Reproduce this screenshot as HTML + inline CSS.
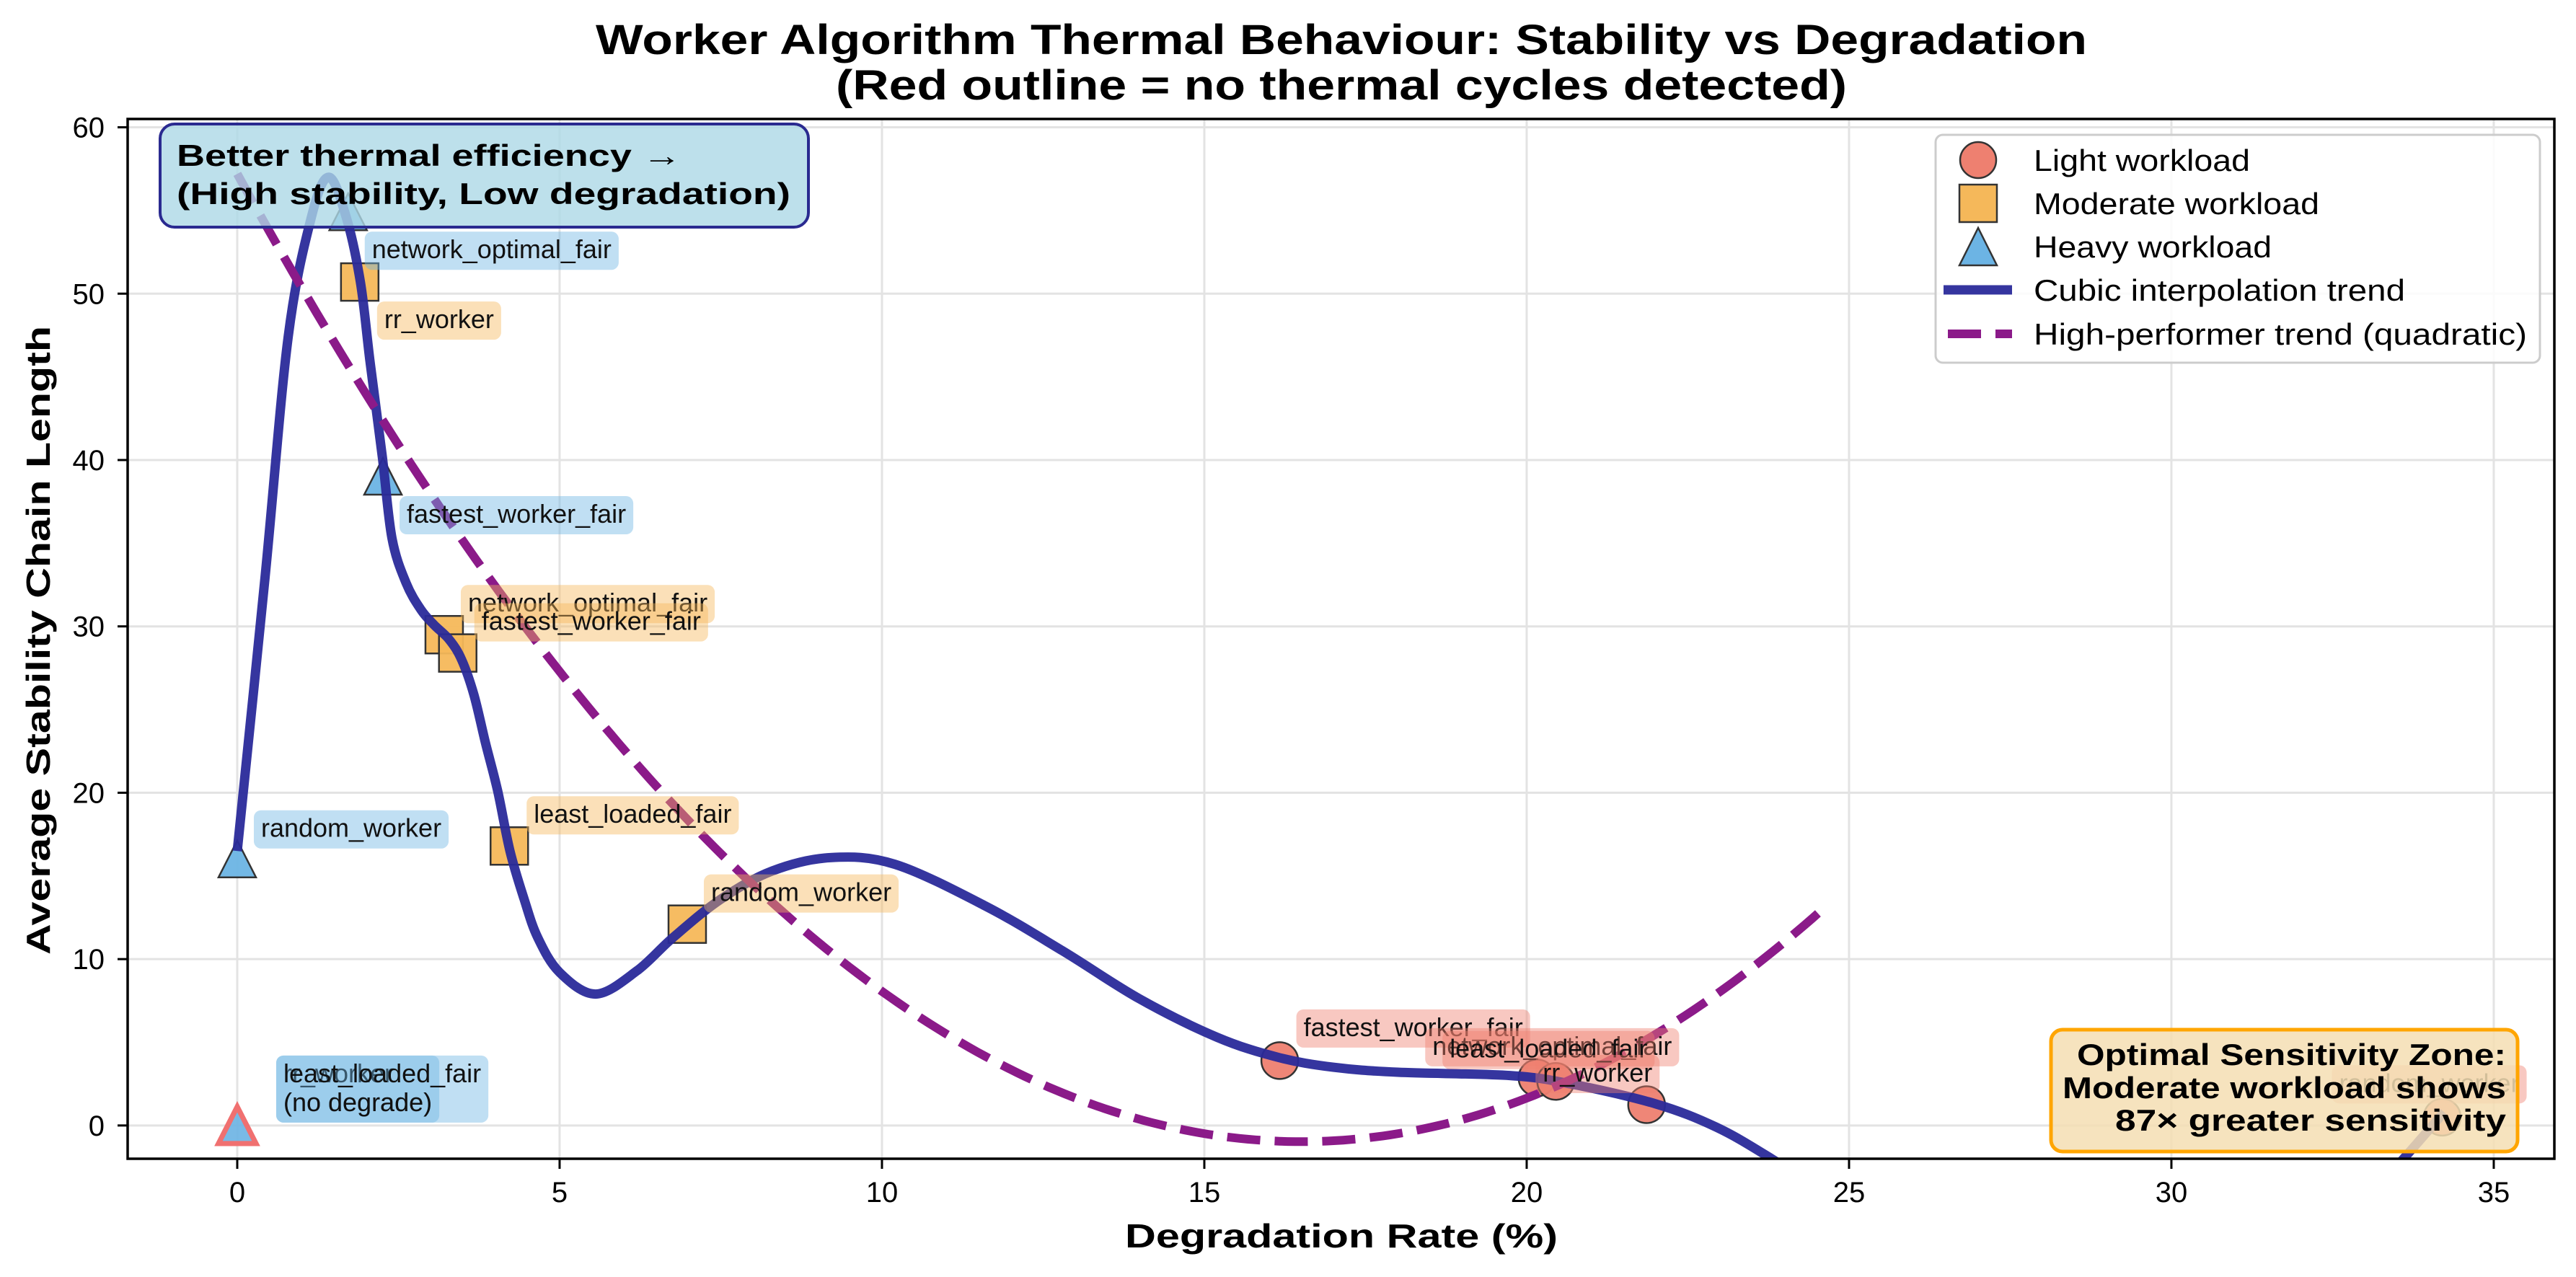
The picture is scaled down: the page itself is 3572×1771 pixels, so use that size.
<!DOCTYPE html>
<html><head><meta charset="utf-8"><style>
html,body{margin:0;padding:0;background:#fff;}
svg{display:block;font-family:"Liberation Sans",sans-serif;}
</style></head><body>
<svg id="chart" xmlns="http://www.w3.org/2000/svg" width="3572" height="1771" viewBox="0 0 3572 1771">
<rect width="3572" height="1771" fill="#fff"/>
<defs><clipPath id="plotclip"><rect x="177" y="165" width="3365" height="1442"/></clipPath></defs>
<g id="grid"></g>
<g id="marks" clip-path="url(#plotclip)"></g>
<g id="lines" clip-path="url(#plotclip)"></g>
<g id="labels" clip-path="url(#plotclip)"></g>
<g id="axes"></g>

<g>
<rect x="222" y="172" width="899" height="143" rx="20" fill="#add8e6" fill-opacity="0.8" stroke="#2a2a90" stroke-width="4"/>
<text x="245" y="230" font-size="42" font-weight="bold" textLength="700" lengthAdjust="spacingAndGlyphs">Better thermal efficiency →</text>
<text x="245" y="283" font-size="42" font-weight="bold" textLength="851" lengthAdjust="spacingAndGlyphs">(High stability, Low degradation)</text>
</g>
<g>
<rect x="2844" y="1428" width="647" height="169" rx="16" fill="#f5deb3" fill-opacity="0.85" stroke="#ffa500" stroke-width="5"/>
<text x="3475" y="1477" font-size="42" font-weight="bold" text-anchor="end" textLength="595" lengthAdjust="spacingAndGlyphs">Optimal Sensitivity Zone:</text>
<text x="3475" y="1523" font-size="42" font-weight="bold" text-anchor="end" textLength="615" lengthAdjust="spacingAndGlyphs">Moderate workload shows</text>
<text x="3475" y="1568" font-size="42" font-weight="bold" text-anchor="end" textLength="542" lengthAdjust="spacingAndGlyphs">87× greater sensitivity</text>
</g>

<g>
<rect x="2684" y="187" width="838" height="316" rx="10" fill="#fff" fill-opacity="0.85" stroke="#cccccc" stroke-width="3"/>
<g>
<ellipse cx="2743" cy="222" rx="25" ry="25" fill="#ee8070" stroke="#333" stroke-width="2.5"/>
<text x="2820" y="237" font-size="42" textLength="300" lengthAdjust="spacingAndGlyphs">Light workload</text></g>
<g>
<rect x="2717" y="256" width="52" height="52" fill="#f5b85a" stroke="#333" stroke-width="2.5"/>
<text x="2820" y="297" font-size="42" textLength="396" lengthAdjust="spacingAndGlyphs">Moderate workload</text></g>
<g>
<polygon points="2743,316 2769,368 2717,368" fill="#6cb4e4" stroke="#333" stroke-width="2.5"/>
<text x="2820" y="357" font-size="42" textLength="330" lengthAdjust="spacingAndGlyphs">Heavy workload</text></g>
<g>
<line x1="2695" y1="402" x2="2790" y2="402" stroke="#2a2a9a" stroke-opacity="0.95" stroke-width="13"/>
<text x="2820" y="417" font-size="42" textLength="515" lengthAdjust="spacingAndGlyphs">Cubic interpolation trend</text></g>
<g>
<line x1="2701" y1="463" x2="2790" y2="463" stroke="#8b1a89" stroke-width="12" stroke-dasharray="46 20"/>
<text x="2820" y="478" font-size="42" textLength="684" lengthAdjust="spacingAndGlyphs">High-performer trend (quadratic)</text></g>
</g>

<text x="1860" y="75" font-size="58" font-weight="bold" text-anchor="middle" textLength="2068" lengthAdjust="spacingAndGlyphs">Worker Algorithm Thermal Behaviour: Stability vs Degradation</text>
<text x="1860" y="138" font-size="58" font-weight="bold" text-anchor="middle" textLength="1402" lengthAdjust="spacingAndGlyphs">(Red outline = no thermal cycles detected)</text>
<text x="1860" y="1730" font-size="46" font-weight="bold" text-anchor="middle" textLength="600" lengthAdjust="spacingAndGlyphs">Degradation Rate (%)</text>
<text transform="translate(69,888) rotate(-90)" x="0" y="0" font-size="46" font-weight="bold" text-anchor="middle" textLength="872" lengthAdjust="spacingAndGlyphs">Average Stability Chain Length</text>

<script>
const xTicks = [0, 5, 10, 15, 20, 25, 30, 35];
const yTicks = [0, 10, 20, 30, 40, 50, 60];
const lightX = [16.17, 20.16, 20.45, 21.86, 34.2];
const lightY = [3.9, 2.86, 2.65, 1.25, 0.5];
const lightNames = ["fastest_worker_fair", "network_optimal_fair", "least_loaded_fair", "rr_worker", "random_worker"];
const modX = [1.90, 3.21, 3.42, 4.22, 6.98];
const modY = [50.7, 29.5, 28.4, 16.8, 12.1];
const modNames = ["rr_worker", "network_optimal_fair", "fastest_worker_fair", "least_loaded_fair", "random_worker"];
const heavyX = [0, 1.72, 2.26, 0, 0];
const heavyY = [16.0, 54.9, 39.0, 0, 0];
const heavyNames = ["random_worker", "network_optimal_fair", "fastest_worker_fair", "rr_worker", "least_loaded_fair"];
const heavyNoCycle = [false, false, false, true, true];
const curveX = [0, 0.43, 0.79, 1.15, 1.42, 1.69, 1.91, 2.06, 2.25, 2.40, 2.62, 2.85, 3.05, 3.29, 3.48, 3.67, 3.85, 4.04, 4.23, 4.45, 4.66, 5.0, 5.56, 6.2, 6.76, 7.5, 8.3, 9.2, 10.2, 11.6, 12.8, 14.0, 15.2, 16.14, 17.0, 18.0, 19.74, 20.68, 22.0, 22.94, 23.8, 25, 28, 31, 33, 33.6, 34.23];
const curveY = [16.5, 32.9, 47.4, 54.6, 57.0, 54.6, 50.7, 45.9, 40.2, 35.3, 32.6, 31.0, 30.1, 29.2, 28.0, 25.9, 23.0, 20.1, 16.5, 13.6, 11.3, 9.2, 7.9, 9.3, 11.3, 13.6, 15.3, 16.1, 15.7, 13.2, 10.5, 7.6, 5.3, 4.1, 3.5, 3.2, 3.0, 2.5, 1.3, -0.1, -2.0, -5, -11, -9, -4.5, -2, 0.8];
const quadCoef = [0.2136, -7.05, 57.2];
const quadRange = [0, 24.68];

const NS = "http://www.w3.org/2000/svg";
const X0 = 177, X1 = 3542, Y0 = 1607, Y1 = 165;
const xMin = -1.70, xMax = 35.94, yMin = -2.0, yMax = 60.5;
function sx(v){ return X0 + (v - xMin) / (xMax - xMin) * (X1 - X0); }
function sy(v){ return Y0 - (v - yMin) / (yMax - yMin) * (Y0 - Y1); }
function mk(tag, attrs, parent){ const e = document.createElementNS(NS, tag); for (const k in attrs) e.setAttribute(k, attrs[k]); parent.appendChild(e); return e; }

const grid = document.getElementById('grid');
const axes = document.getElementById('axes');
xTicks.forEach(t => {
  const g = mk('line', {x1: sx(t), x2: sx(t), y1: Y1, y2: Y0, stroke: '#e3e3e3', 'stroke-width': 3}, grid);
  
  
  const tk = mk('line', {x1: sx(t), x2: sx(t), y1: Y0, y2: Y0 + 14, stroke: '#000', 'stroke-width': 3}, axes);
  
  
  const lb = mk('text', {x: sx(t), y: 1667, 'font-size': 40, 'text-anchor': 'middle'}, axes);
  lb.textContent = String(t);
  
  
});
yTicks.forEach(t => {
  const g = mk('line', {x1: X0, x2: X1, y1: sy(t), y2: sy(t), stroke: '#e3e3e3', 'stroke-width': 3}, grid);
  
  
  const tk = mk('line', {x1: X0 - 14, x2: X0, y1: sy(t), y2: sy(t), stroke: '#000', 'stroke-width': 3}, axes);
  
  
  const lb = mk('text', {x: 145, y: sy(t) + 14, 'font-size': 40, 'text-anchor': 'end'}, axes);
  lb.textContent = String(t);
  
  
});
const frame = mk('rect', {x: X0, y: Y1, width: X1 - X0, height: Y0 - Y1, fill: 'none', stroke: '#000', 'stroke-width': 3.5}, axes);



const marks = document.getElementById('marks');
for (let i = 0; i < lightX.length; i++) {
  const c = mk('circle', {cx: sx(lightX[i]), cy: sy(lightY[i]), r: 25.5, fill: '#ee8070', 'fill-opacity': 0.95, stroke: '#333', 'stroke-width': 2.5}, marks);
  
  
}
for (let i = 0; i < modX.length; i++) {
  const r = mk('rect', {x: sx(modX[i]) - 26, y: sy(modY[i]) - 26, width: 52, height: 52, fill: '#f5b85a', 'fill-opacity': 0.95, stroke: '#333', 'stroke-width': 2.5}, marks);
  
  
}
for (let i = 0; i < heavyX.length; i++) {
  const x = sx(heavyX[i]), y = sy(heavyY[i]);
  const red = heavyNoCycle[i];
  const p = mk('polygon', {points: `${x},${y-26} ${x+26},${y+25} ${x-26},${y+25}`, fill: '#6cb4e4', 'fill-opacity': red ? 0.7 : 0.95, stroke: red ? '#f07070' : '#333', 'stroke-width': red ? 7 : 2.5, 'stroke-linejoin': 'miter'}, marks);
  
  
}

const lines = document.getElementById('lines');
function catmull(px, py) {
  let d = `M${px[0]},${py[0]}`;
  for (let i = 0; i < px.length - 1; i++) {
    const x0 = px[Math.max(0, i-1)], y0 = py[Math.max(0, i-1)];
    const x1 = px[i], y1 = py[i], x2 = px[i+1], y2 = py[i+1];
    const x3 = px[Math.min(px.length-1, i+2)], y3 = py[Math.min(px.length-1, i+2)];
    d += ` C${x1 + (x2 - x0)/6},${y1 + (y2 - y0)/6} ${x2 - (x3 - x1)/6},${y2 - (y3 - y1)/6} ${x2},${y2}`;
  }
  return d;
}
const cpx = curveX.map(sx), cpy = curveY.map(sy);
const cubic = mk('path', {d: catmull(cpx, cpy), fill: 'none', stroke: '#2a2a9a', 'stroke-opacity': 0.95, 'stroke-width': 13, 'stroke-linejoin': 'round'}, lines);


const qpts = [];
for (let k = 0; k <= 200; k++) {
  const x = quadRange[0] + (quadRange[1] - quadRange[0]) * k / 200;
  const y = quadCoef[0]*x*x + quadCoef[1]*x + quadCoef[2];
  qpts.push(sx(x).toFixed(1) + ',' + sy(y).toFixed(1));
}
const quad = mk('polyline', {points: qpts.join(' '), fill: 'none', stroke: '#8b1a89', 'stroke-width': 12, 'stroke-dasharray': '46 20'}, lines);



const labels = document.getElementById('labels');
function label(x, y, linesTxt, color, dx, dy) {
  const g = mk('g', {}, labels);
  
  
  const rect = mk('rect', {x: x + dx, y: y + dy, rx: 10, height: 53 + (linesTxt.length - 1) * 40, fill: color, 'fill-opacity': 0.43}, g);
  let w = 0;
  linesTxt.forEach((t, j) => {
    const tx = mk('text', {x: x + dx + 10, y: y + dy + 37 + j * 40, 'font-size': 36, fill: '#111'}, g);
    tx.textContent = t;
    w = Math.max(w, tx.getComputedTextLength());
  });
  rect.setAttribute('width', w + 20);
}
const lightOff = [[23, -71], [-155, -69], [-157, -70], [-154, -69], [-153, -72]];
for (let i = 0; i < lightX.length; i++) label(sx(lightX[i]), sy(lightY[i]), [lightNames[i]], '#ee8070', lightOff[i][0], lightOff[i][1]);
const modOff = [[24, 27], [23, -69], [23, -69], [24, -69], [23, -69]];
for (let i = 0; i < modX.length; i++) label(sx(modX[i]), sy(modY[i]), [modNames[i]], '#f5b85a', modOff[i][0], modOff[i][1]);
const heavyOff = [[23, -68], [23, 27], [23, 27], [54, -97], [54, -97]];
for (let i = 0; i < heavyX.length; i++) {
  const t = heavyNoCycle[i] ? [heavyNames[i], '(no degrade)'] : [heavyNames[i]];
  label(sx(heavyX[i]), sy(heavyY[i]), t, '#6cb4e4', heavyOff[i][0], heavyOff[i][1]);
}
</script>
</svg>
</body></html>
